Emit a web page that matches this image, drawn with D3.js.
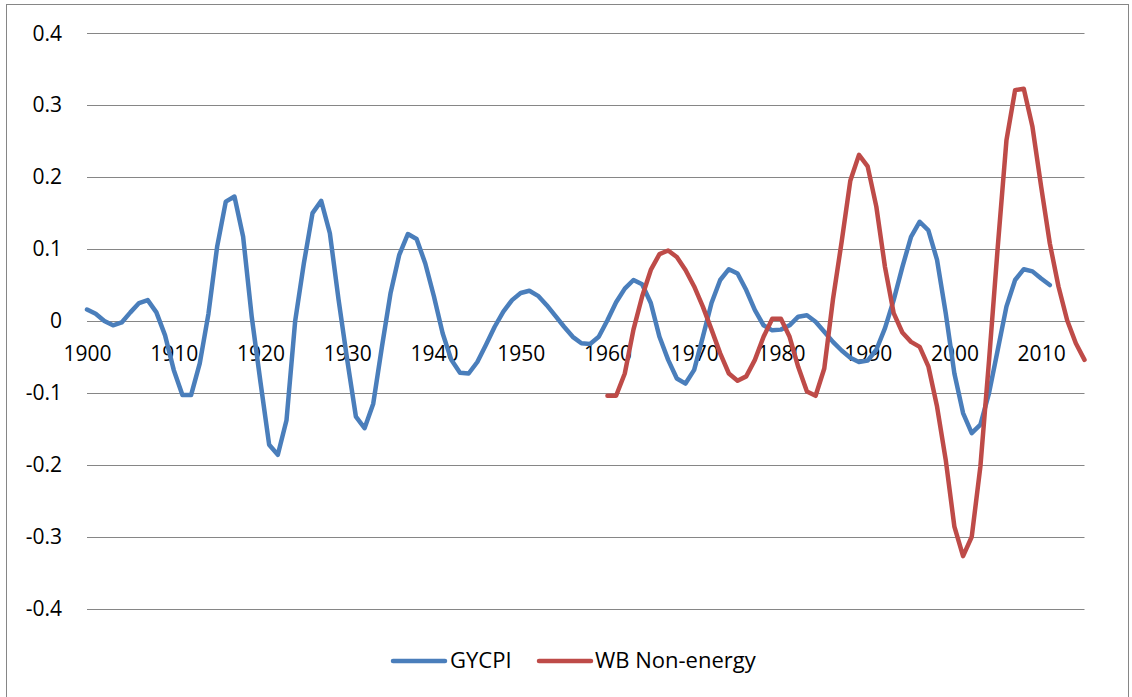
<!DOCTYPE html>
<html>
<head>
<meta charset="utf-8">
<script src="https://cdn.jsdelivr.net/npm/d3@7"></script>
<style>
  html, body { margin: 0; padding: 0; background: #fff; }
  svg { display: block; font-family: "Open Sans", "Liberation Sans", sans-serif; }
</style>
</head>
<body>
<div id="container"></div>
<script>
// GYCPI, yearly from 1900
const gycpiStart = 1900;
const gycpi = [
  0.016, 0.010, 0.000, -0.006, -0.002, 0.012, 0.025, 0.029, 0.012, -0.020,
  -0.068, -0.103, -0.103, -0.059, 0.010, 0.103, 0.166, 0.173, 0.117, 0.005,
  -0.085, -0.172, -0.186, -0.138, 0.000, 0.080, 0.150, 0.167, 0.122, 0.030,
  -0.054, -0.133, -0.149, -0.115, -0.036, 0.039, 0.092, 0.121, 0.114, 0.080,
  0.034, -0.017, -0.054, -0.072, -0.073, -0.057, -0.033, -0.008, 0.013, 0.029,
  0.039, 0.042, 0.035, 0.022, 0.007, -0.008, -0.022, -0.031, -0.032, -0.022,
  0.001, 0.026, 0.045, 0.057, 0.051, 0.025, -0.022, -0.054, -0.080, -0.087,
  -0.068, -0.022, 0.025, 0.057, 0.072, 0.066, 0.043, 0.015, -0.006, -0.013,
  -0.012, -0.006, 0.006, 0.008, -0.001, -0.015, -0.029, -0.041, -0.051, -0.057,
  -0.055, -0.040, -0.010, 0.029, 0.075, 0.117, 0.138, 0.126, 0.085, 0.011,
  -0.073, -0.128, -0.156, -0.144, -0.100, -0.040, 0.020, 0.057, 0.072, 0.069,
  0.059, 0.050
];

// WB Non-energy, yearly from 1960
const wbStart = 1960;
const wbNonEnergy = [
  -0.104, -0.104, -0.073, -0.012, 0.034, 0.071, 0.093, 0.098, 0.089, 0.071,
  0.048, 0.020, -0.012, -0.045, -0.073, -0.083, -0.077, -0.054, -0.022, 0.003,
  0.003, -0.022, -0.064, -0.098, -0.104, -0.066, 0.030, 0.110, 0.195, 0.231,
  0.215, 0.159, 0.075, 0.011, -0.016, -0.029, -0.036, -0.063, -0.119, -0.193,
  -0.286, -0.327, -0.300, -0.202, -0.054, 0.103, 0.251, 0.321, 0.323, 0.270,
  0.187, 0.108, 0.048, 0.001, -0.031, -0.054
];

const yearTicks = [1900, 1910, 1920, 1930, 1940, 1950, 1960, 1970, 1980, 1990, 2000, 2010];
const valueTicks = [-0.4, -0.3, -0.2, -0.1, 0, 0.1, 0.2, 0.3, 0.4];

const seriesNames = ['GYCPI', 'WB Non-energy'];
const seriesColors = ['#4a7ebb', '#be4b48'];

const W = 1132, H = 697;

const svg = d3.select('#container').append('svg')
  .attr('width', W)
  .attr('height', H);

// chart border
svg.append('rect')
  .attr('x', 6.5).attr('y', 4.5)
  .attr('width', 1122).attr('height', 720)
  .style('fill', 'none')
  .style('stroke', '#868686')
  .style('stroke-width', 1);

const x = d3.scaleLinear().domain([1900, 2015]).range([87, 1084.5]);
const y = d3.scaleLinear().domain([-0.4, 0.4]).range([608.7, 33.3]);

// horizontal gridlines
svg.append('g')
  .selectAll('line')
  .data(valueTicks)
  .join('line')
  .attr('x1', x(1900))
  .attr('x2', x(2015))
  .attr('y1', d => Math.round(y(d)) + 0.5)
  .attr('y2', d => Math.round(y(d)) + 0.5)
  .style('stroke', '#868686')
  .style('stroke-width', 1);

// y axis labels (plain hyphen for negatives, like the original)
const fmtValue = d => d === 0 ? '0' : d.toFixed(1);
const yAxis = svg.append('g')
  .attr('transform', `translate(${x(1900)},0)`)
  .call(d3.axisLeft(y)
    .tickValues(valueTicks)
    .tickSize(0)
    .tickPadding(25)
    .tickFormat(fmtValue));
yAxis.select('.domain').remove();
yAxis.selectAll('text')
  .style('font-size', '21px')
  .style('font-family', '"Open Sans", "Liberation Sans", sans-serif')
  .style('fill', '#000');

// x axis labels sit on the zero line
const xAxis = svg.append('g')
  .attr('transform', `translate(0,${y(0)})`)
  .call(d3.axisBottom(x)
    .tickValues(yearTicks)
    .tickSize(0)
    .tickPadding(25)
    .tickFormat(d => String(d)));
xAxis.select('.domain').remove();
xAxis.selectAll('text')
  .style('font-size', '21px')
  .style('font-family', '"Open Sans", "Liberation Sans", sans-serif')
  .style('fill', '#000');

const line = d3.line()
  .x(d => x(d.year))
  .y(d => y(d.value));

const seriesData = [
  gycpi.map((v, i) => ({ year: gycpiStart + i, value: v })),
  wbNonEnergy.map((v, i) => ({ year: wbStart + i, value: v }))
];

seriesData.forEach((data, i) => {
  svg.append('path')
    .datum(data)
    .attr('d', line)
    .style('fill', 'none')
    .style('stroke', seriesColors[i])
    .style('stroke-width', 4.5)
    .style('stroke-linejoin', 'round')
    .style('stroke-linecap', 'round');
});

// legend
const legendItems = [
  { x1: 393, x2: 445, tx: 450 },
  { x1: 539, x2: 591, tx: 595 }
];
const legend = svg.append('g');
legendItems.forEach((item, i) => {
  legend.append('line')
    .attr('x1', item.x1).attr('x2', item.x2)
    .attr('y1', 661).attr('y2', 661)
    .style('stroke', seriesColors[i])
    .style('stroke-width', 4.5)
    .style('stroke-linecap', 'round');
  legend.append('text')
    .attr('x', item.tx)
    .attr('y', 668)
    .style('font-size', '22px')
    .style('fill', '#000')
    .text(seriesNames[i]);
});
</script>
</body>
</html>
